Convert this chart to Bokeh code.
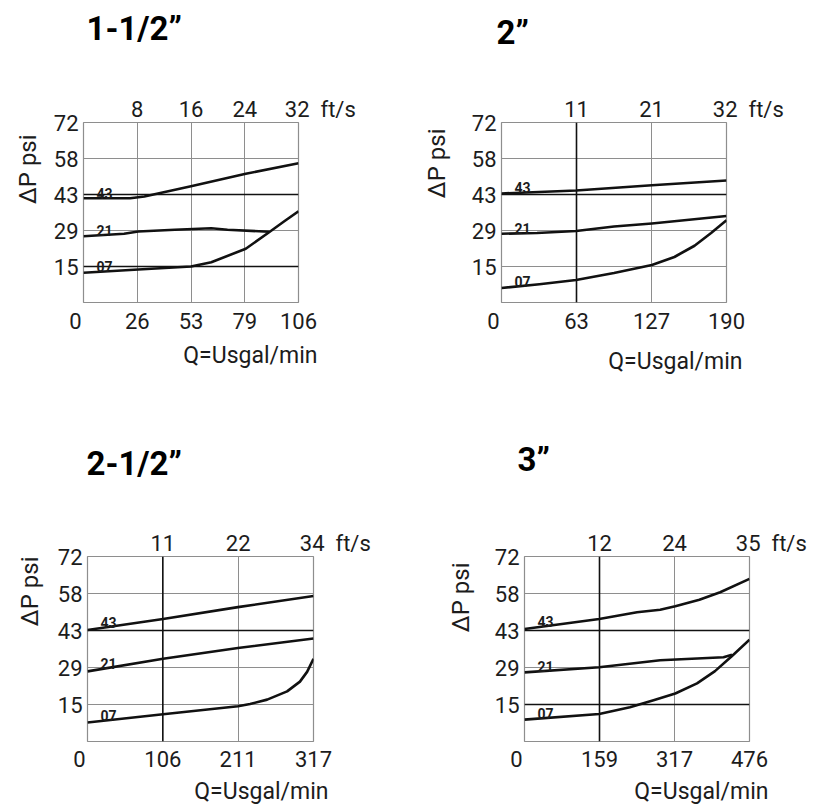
import numpy as np
from bokeh.plotting import figure
from bokeh.layouts import column, row
from bokeh.models import LinearAxis, FixedTicker, Label, Span, Range1d, Title
from bokeh.embed import file_html
from bokeh.resources import INLINE

# ---------------- data ----------------
Y_MAX = 72
Y_TICK_LABELS = ["0", "15", "29", "43", "58", "72"]
CURVE_NAMES = ["43", "21", "07"]
Q_UNIT = "Q=Usgal/min"
V_UNIT = "ft/s"
P_UNIT = "\u0394P psi"

# 1-1/2"
P1_TITLE = "1-1/2\u201d"
P1_Q_MAX = 106
P1_Q_LABELS = ["0", "26", "53", "79", "106"]
P1_V_LABELS = ["8", "16", "24", "32"]
P1_43_X = [0, 23, 30, 53, 80, 106]
P1_43_Y = [41.7, 41.7, 42.4, 46.5, 51.5, 55.7]
P1_21_X = [0, 20, 27, 45, 63, 71, 91.5]
P1_21_Y = [26.5, 27.5, 28.4, 29.1, 29.7, 29.1, 28.3]
P1_07_X = [0, 27, 53, 63, 80, 91.5, 99, 106]
P1_07_Y = [11.9, 13.2, 14.4, 16.1, 21.5, 28.1, 32.5, 36.5]
P1_DARK_Q = []
P1_DARK_P = ["43", "15"]

# 2"
P2_TITLE = "2\u201d"
P2_Q_MAX = 190
P2_Q_LABELS = ["0", "63", "127", "190"]
P2_V_LABELS = ["11", "21", "32"]
P2_43_X = [0, 63, 127, 190]
P2_43_Y = [43.6, 44.8, 46.9, 48.8]
P2_21_X = [0, 30, 63, 95, 127, 190]
P2_21_Y = [27.5, 27.8, 28.6, 30.4, 31.6, 34.6]
P2_07_X = [0, 32, 63, 95, 127, 146, 163, 177, 190]
P2_07_Y = [5.8, 7.3, 9.0, 11.8, 15.0, 18.2, 22.7, 27.8, 32.9]
P2_DARK_Q = ["63"]
P2_DARK_P = ["43"]

# 2-1/2"
P3_TITLE = "2-1/2\u201d"
P3_Q_MAX = 317
P3_Q_LABELS = ["0", "106", "211", "317"]
P3_V_LABELS = ["11", "22", "34"]
P3_43_X = [0, 106, 211, 317]
P3_43_Y = [43.4, 47.7, 52.3, 56.6]
P3_21_X = [0, 106, 211, 317]
P3_21_Y = [27.3, 32.2, 36.4, 40.1]
P3_07_X = [0, 106, 211, 228, 252, 280, 298, 308, 317]
P3_07_Y = [7.4, 10.6, 13.7, 14.6, 16.3, 19.5, 23.3, 27.1, 32.2]
P3_DARK_Q = ["106"]
P3_DARK_P = ["43"]

# 3"
P4_TITLE = "3\u201d"
P4_Q_MAX = 476
P4_Q_LABELS = ["0", "159", "317", "476"]
P4_V_LABELS = ["12", "24", "35"]
P4_43_X = [0, 158, 238, 287, 319, 370, 414, 476]
P4_43_Y = [43.8, 47.7, 50.3, 51.3, 52.6, 55.2, 58.1, 63.3]
P4_21_X = [0, 158, 287, 421, 439]
P4_21_Y = [26.9, 28.9, 31.6, 32.8, 33.8]
P4_07_X = [0, 158, 223, 273, 319, 365, 403, 439, 476]
P4_07_Y = [8.5, 10.7, 13.3, 16.1, 18.7, 22.6, 27.4, 33.3, 39.6]
P4_DARK_Q = ["159"]
P4_DARK_P = ["43", "15"]

# ---------------- styling ----------------
FONT = "Roboto"
GRID_COLOR = "#8e8e8e"
INK = "#1c1c1c"
NB = "\u00a0"


def make_panel(title, qmax, q_labels, v_labels, curves, dark_q, dark_p, geo):
    p = figure(width=geo["w"], height=geo["h"], output_backend="svg",
               toolbar_location=None, x_range=Range1d(0, qmax),
               y_range=Range1d(0, Y_MAX), title=None)
    p.min_border_left, p.min_border_right = geo["ml"], geo["mr"]
    p.min_border_top, p.min_border_bottom = geo["mt"], geo["mb"]
    p.outline_line_color = GRID_COLOR
    p.outline_line_width = 1.2
    p.background_fill_color = "white"
    p.border_fill_color = "white"
    fw = geo["w"] - geo["ml"] - geo["mr"]

    n = len(q_labels) - 1
    q_pos = [qmax * i / n for i in range(n + 1)]
    m = len(Y_TICK_LABELS) - 1
    y_pos = [Y_MAX * i / m for i in range(m + 1)]

    def style(ax, standoff):
        ax.axis_line_color = None
        ax.major_tick_line_color = None
        ax.minor_tick_line_color = None
        ax.major_tick_out = 0
        ax.major_tick_in = 0
        ax.minor_tick_out = 0
        ax.minor_tick_in = 0
        ax.major_label_text_font = FONT
        ax.major_label_text_font_size = "22px"
        ax.major_label_text_color = INK
        ax.major_label_standoff = standoff

    # bottom axis (flow); the corner zero is nudged left of the frame corner
    xa = p.xaxis[0]
    xa.ticker = FixedTicker(ticks=q_pos)
    over = {q_pos[i]: q_labels[i] for i in range(n + 1)}
    over[q_pos[0]] = q_labels[0] + NB * 3
    xa.major_label_overrides = over
    style(xa, geo["bs"])

    # left axis (pressure)
    ya = p.yaxis[0]
    ya.ticker = FixedTicker(ticks=y_pos[1:])
    ya.major_label_overrides = {y_pos[i]: Y_TICK_LABELS[i] for i in range(1, m + 1)}
    style(ya, 5)

    # top axis (velocity); unit written after the last value
    vover = {q_pos[i]: v_labels[i - 1] for i in range(1, n + 1)}
    vover[q_pos[n]] = NB * 8 + v_labels[-1] + NB * 2 + V_UNIT
    top = LinearAxis(ticker=FixedTicker(ticks=q_pos[1:]), major_label_overrides=vover)
    style(top, 1)
    p.add_layout(top, "above")

    # gap, then the panel title
    p.add_layout(Title(text=" ", text_font_size="1px", standoff=geo["gap"]), "above")
    p.add_layout(Title(text=title, align="left", offset=geo["tx"], standoff=0,
                       text_font=FONT, text_font_size="33px", text_font_style="bold",
                       text_color="#000000"), "above")

    # axis names
    p.add_layout(Title(text=Q_UNIT, align="right", offset=geo["qx"], standoff=geo["qs"],
                       text_font=FONT, text_font_size="23px", text_font_style="normal",
                       text_color=INK), "below")
    p.add_layout(Title(text=P_UNIT + NB * geo["pn"], align="right", offset=0, standoff=geo["ps"],
                       text_font=FONT, text_font_size="24px", text_font_style="normal",
                       text_color=INK), "left")

    p.xgrid.ticker = FixedTicker(ticks=q_pos)
    p.ygrid.ticker = FixedTicker(ticks=y_pos)
    for g in (p.xgrid[0], p.ygrid[0]):
        g.grid_line_color = GRID_COLOR
        g.grid_line_width = 1

    for lab in dark_q:
        p.add_layout(Span(location=q_pos[q_labels.index(lab)], dimension="height",
                          line_color="#111111", line_width=1.6))
    for lab in dark_p:
        p.add_layout(Span(location=y_pos[Y_TICK_LABELS.index(lab)], dimension="width",
                          line_color="#111111", line_width=1.6))

    lx = qmax * 13 / fw
    lc = qmax * 20 / fw
    for name, (xs, ys) in zip(CURVE_NAMES, curves):
        p.line(xs, ys, line_color="#111111", line_width=2.6, line_join="round")
        ly = float(np.interp(lc, xs, ys))
        p.add_layout(Label(x=lx, y=ly, y_offset=5, text=name, text_font=FONT,
                           text_font_size="14px", text_font_style="bold", text_color=INK,
                           text_baseline="alphabetic", text_align="left"))
    return p


G1 = dict(w=395, h=430, ml=83, mr=97, mt=122, mb=128, tx=3, gap=43,
          bs=6, qx=-19, qs=6, ps=17, pn=2)
G2 = dict(w=426, h=430, ml=106, mr=95, mt=118, mb=124, tx=-5, gap=39,
          bs=6, qx=-16, qs=18, ps=36, pn=1)
G3 = dict(w=425, h=381, ml=87, mr=112, mt=122, mb=70, tx=-1, gap=42,
          bs=5, qx=-15, qs=3, ps=21, pn=0)
G4 = dict(w=396, h=381, ml=99, mr=72, mt=126, mb=70, tx=-7, gap=46,
          bs=5, qx=-19, qs=3, ps=34, pn=1)

p1 = make_panel(P1_TITLE, P1_Q_MAX, P1_Q_LABELS, P1_V_LABELS,
                [(P1_43_X, P1_43_Y), (P1_21_X, P1_21_Y), (P1_07_X, P1_07_Y)],
                P1_DARK_Q, P1_DARK_P, G1)
p2 = make_panel(P2_TITLE, P2_Q_MAX, P2_Q_LABELS, P2_V_LABELS,
                [(P2_43_X, P2_43_Y), (P2_21_X, P2_21_Y), (P2_07_X, P2_07_Y)],
                P2_DARK_Q, P2_DARK_P, G2)
p3 = make_panel(P3_TITLE, P3_Q_MAX, P3_Q_LABELS, P3_V_LABELS,
                [(P3_43_X, P3_43_Y), (P3_21_X, P3_21_Y), (P3_07_X, P3_07_Y)],
                P3_DARK_Q, P3_DARK_P, G3)
p4 = make_panel(P4_TITLE, P4_Q_MAX, P4_Q_LABELS, P4_V_LABELS,
                [(P4_43_X, P4_43_Y), (P4_21_X, P4_21_Y), (P4_07_X, P4_07_Y)],
                P4_DARK_Q, P4_DARK_P, G4)

layout = column(row(p1, p2), row(p3, p4))
open("out.html", "w").write(file_html(layout, INLINE))
